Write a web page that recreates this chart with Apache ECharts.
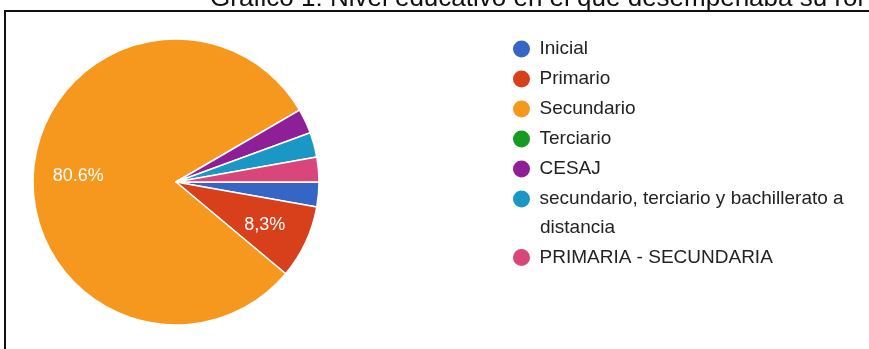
<!DOCTYPE html>
<html>
<head>
<meta charset="utf-8">
<script src="https://cdn.jsdelivr.net/npm/echarts@6/dist/echarts.min.js"></script>
<style>
  html, body { margin: 0; padding: 0; background: #ffffff; }
  #chart { width: 869px; height: 349px; }
</style>
</head>
<body>
<div id="chart"></div>
<script>
// Nivel educativo: share of answers per level (percent)
const categories = [
  'Inicial',
  'Primario',
  'Secundario',
  'Terciario',
  'CESAJ',
  'secundario, terciario y bachillerato a distancia',
  'PRIMARIA - SECUNDARIA'
];
const percentages = [2.8, 8.3, 80.6, 0, 2.8, 2.8, 2.8];
// decimal separator used by each slice label
const separators = ['.', ',', '.', '.', '.', '.', '.'];
const colors = ['#3566c6', '#d8401b', '#f6981e', '#149b20', '#8f1f97', '#1a97c4', '#d9477a'];

const titleText = 'Gráfico 1: Nivel educativo en el que desempeñaba su rol';
const wrappedName = categories[5];
const wrappedFirstLine = 'secundario, terciario y bachillerato a';
const wrappedSecondLine = 'distancia';

const PIE_CX = 176, PIE_CY = 182, PIE_R = 143, LABEL_R = 98;

const chart = echarts.init(document.getElementById('chart'), null, { renderer: 'canvas' });

const legendText = { color: '#222222', fontSize: 19, fontFamily: '"Liberation Sans", Arial, sans-serif', lineHeight: 20 };

chart.setOption({
  animation: false,
  color: colors,
  legend: [
    {
      orient: 'vertical',
      left: 511,
      top: 38.5,
      padding: 0,
      icon: 'circle',
      itemWidth: 26,
      itemHeight: 19,
      itemGap: 9,
      symbolKeepAspect: true,
      selectedMode: false,
      data: categories.slice(0, 6),
      formatter: function (name) { return name === wrappedName ? wrappedFirstLine : name; },
      textStyle: legendText
    },
    {
      orient: 'vertical',
      left: 511,
      top: 247,
      padding: 0,
      icon: 'circle',
      itemWidth: 26,
      itemHeight: 19,
      symbolKeepAspect: true,
      selectedMode: false,
      data: categories.slice(6),
      textStyle: legendText
    }
  ],
  graphic: [
    {
      type: 'text',
      left: 540,
      top: 218,
      style: { text: wrappedSecondLine, fill: '#222222', font: '19px "Liberation Sans", Arial, sans-serif' },
      silent: true
    },
    {
      type: 'text',
      x: 210,
      y: -1.5,
      style: { text: titleText, fill: '#111111', font: '26px "Liberation Sans", Arial, sans-serif', verticalAlign: 'middle' },
      silent: true
    },
    {
      type: 'line',
      shape: { x1: 5, y1: 11, x2: 869, y2: 11 },
      style: { stroke: '#111111', lineWidth: 2 },
      silent: true
    },
    {
      type: 'line',
      shape: { x1: 5, y1: 10, x2: 5, y2: 349 },
      style: { stroke: '#111111', lineWidth: 2 },
      silent: true
    }
  ],
  series: [
    {
      type: 'pie',
      center: [PIE_CX, PIE_CY],
      radius: [0, PIE_R],
      startAngle: 0,
      clockwise: true,
      silent: true,
      itemStyle: { borderColor: '#ffffff', borderWidth: 1.5 },
      label: {
        position: 'inside',
        color: '#ffffff',
        fontSize: 18,
        fontFamily: '"Liberation Sans", Arial, sans-serif',
        formatter: function (p) {
          return p.value.toFixed(1).replace('.', separators[p.dataIndex]) + '%';
        }
      },
      labelLine: { show: false },
      labelLayout: function (p) {
        const lx = p.labelRect.x + p.labelRect.width / 2;
        const ly = p.labelRect.y + p.labelRect.height / 2;
        const a = Math.atan2(ly - PIE_CY, lx - PIE_CX);
        return { x: PIE_CX + LABEL_R * Math.cos(a), y: PIE_CY + 2 + LABEL_R * Math.sin(a), align: 'center', verticalAlign: 'middle' };
      },
      data: categories.map(function (name, i) {
        return { name: name, value: percentages[i], label: { show: percentages[i] >= 5 } };
      })
    }
  ]
});
</script>
</body>
</html>
